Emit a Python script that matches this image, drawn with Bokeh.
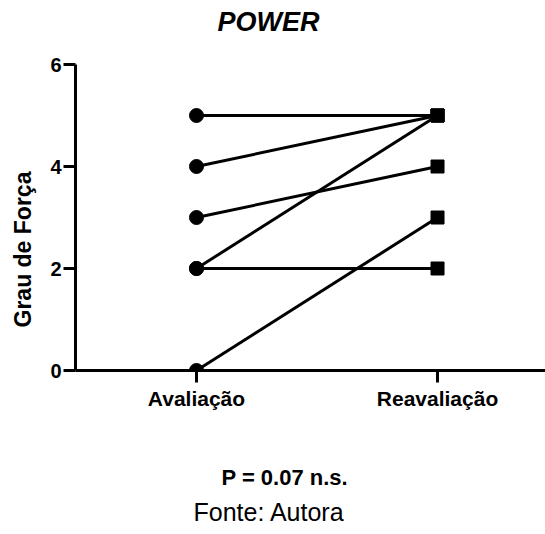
from bokeh.plotting import figure
from bokeh.models import Range1d, FixedTicker, Title
from bokeh.embed import file_html
from bokeh.resources import INLINE

categories = ["Avaliação", "Reavaliação"]
avaliacao = [5, 4, 3, 2, 2, 0]
reavaliacao = [5, 5, 4, 5, 2, 3]
y_ticks = [0, 2, 4, 6]
title_text = "POWER"
y_label = "Grau de Força"
p_text = "P = 0.07 n.s."
source_text = "Fonte: Autora"

FONT = "Liberation Sans"
xpos = list(range(len(categories)))

p = figure(width=545, height=534, output_backend="svg", toolbar_location=None,
           x_range=Range1d(-0.502, 1.448), y_range=Range1d(0, 6),
           min_border_left=75, min_border_right=0, min_border_top=64, min_border_bottom=164)
p.outline_line_color = None
p.background_fill_color = "white"
p.border_fill_color = "white"
p.xgrid.visible = False
p.ygrid.visible = False

xs = [[xpos[0], xpos[1]] for _ in avaliacao]
ys = [[a, b] for a, b in zip(avaliacao, reavaliacao)]
p.multi_line(xs=xs, ys=ys, line_color="black", line_width=3)
p.scatter(x=[xpos[0]] * len(avaliacao), y=avaliacao, marker="circle", size=14,
          fill_color="black", line_color="black")
p.scatter(x=[xpos[1]] * len(reavaliacao), y=reavaliacao, marker="square", size=13,
          fill_color="black", line_color="black")

for ax in (p.xaxis[0], p.yaxis[0]):
    ax.axis_line_width = 3
    ax.axis_line_color = "black"
    ax.major_tick_line_width = 3
    ax.major_tick_line_color = "black"
    ax.major_tick_in = 0
    ax.minor_tick_line_color = None
    ax.major_label_text_font = FONT
    ax.major_label_text_font_style = "bold"
    ax.major_label_text_color = "black"

p.xaxis.ticker = FixedTicker(ticks=xpos)
p.xaxis.major_label_overrides = {i: c for i, c in zip(xpos, categories)}
p.xaxis.major_tick_out = 12
p.xaxis.major_label_standoff = 4
p.xaxis.major_label_text_font_size = "21px"

p.yaxis.ticker = FixedTicker(ticks=y_ticks)
p.yaxis.major_tick_out = 12
p.yaxis.major_label_standoff = 2
p.yaxis.major_label_text_font_size = "20px"

# above: spacer next to the frame, then the title
p.add_layout(Title(text=" ", text_font_size="1px", standoff=25), "above")
p.add_layout(Title(text=title_text, align="left", offset=142, standoff=0,
                   text_font=FONT, text_font_style="bold italic", text_font_size="27px",
                   text_color="black"), "above")
# left: spacer, then axis title
p.add_layout(Title(text=" ", text_font_size="1px", standoff=9), "left")
p.add_layout(Title(text=y_label, align="left", offset=43, standoff=0,
                   text_font=FONT, text_font_style="bold", text_font_size="23px",
                   text_color="black"), "left")
# below: spacer, p-value, source
p.add_layout(Title(text=" ", text_font_size="1px", standoff=47), "below")
p.add_layout(Title(text=p_text, align="left", offset=146, standoff=0,
                   text_font=FONT, text_font_style="bold", text_font_size="22px",
                   text_color="black"), "below")
p.add_layout(Title(text=source_text, align="left", offset=118, standoff=13,
                   text_font=FONT, text_font_style="normal", text_font_size="25px",
                   text_color="black"), "below")

open("out.html", "w").write(file_html(p, INLINE))
